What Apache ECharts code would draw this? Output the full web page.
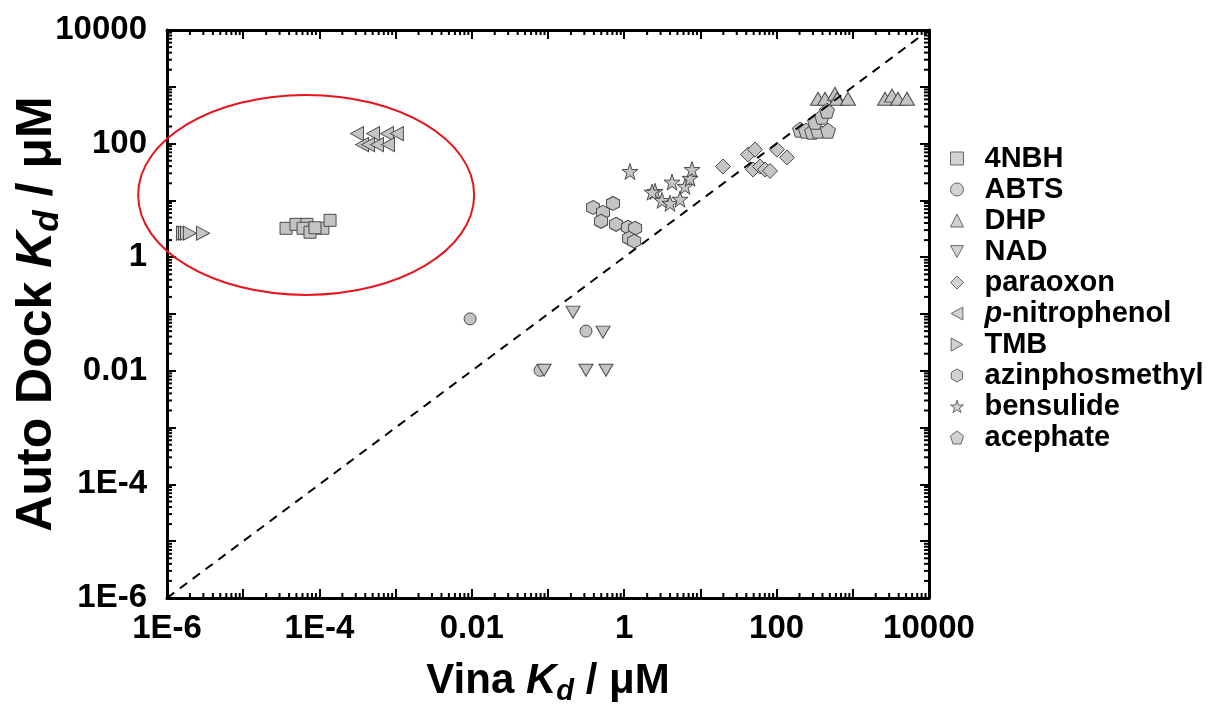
<!DOCTYPE html>
<html>
<head>
<meta charset="utf-8">
<script src="https://cdn.jsdelivr.net/npm/echarts@6/dist/echarts.min.js"></script>
<style>
  html, body { margin: 0; padding: 0; background: #fff; }
  #chart { width: 1208px; height: 710px; }
</style>
</head>
<body>
<div id="chart"></div>
<script>
// tick labels (log axes, every other decade)
let tickValues = [1e-6, 1e-4, 0.01, 1, 100, 10000];
let tickLabels = ['1E-6', '1E-4', '0.01', '1', '100', '10000'];

// series names, in legend order
let names = ['4NBH', 'ABTS', 'DHP', 'NAD', 'paraoxon', 'p-nitrophenol', 'TMB', 'azinphosmethyl', 'bensulide', 'acephate'];

// Vina Kd (x) and AutoDock Kd (y), uM
let nbh_x = [3.65e-5, 4.93e-5, 6.87e-5, 6.1e-5, 7.53e-5, 1.11e-4, 1.38e-4, 8.75e-5];
let nbh_y = [3.23, 3.79, 3.79, 3.23, 2.75, 3.23, 4.46, 3.3];

let abts_x = [0.0095, 0.315, 0.0786];
let abts_y = [0.082, 0.050, 0.0102];

let dhp_x = [349, 432, 583, 621, 865, 2650, 3270, 3920, 5140];
let dhp_y = [615, 615, 754, 615, 615, 615, 700, 615, 615];

let nad_x = [0.213, 0.527, 0.0888, 0.315, 0.577];
let nad_y = [0.108, 0.048, 0.0102, 0.0102, 0.0102];

let paraoxon_x = [19.8, 42.2, 52.1, 49.0, 60.5, 70.5, 81.9, 101, 137];
let paraoxon_y = [39.5, 64, 78.5, 35, 39.5, 35, 33, 78.5, 57];

let pnp_x = [3.11e-4, 5.05e-4, 7.7e-4, 1.04e-3, 3.62e-4, 4.35e-4, 5.7e-4, 7.94e-4];
let pnp_y = [150, 150, 150, 150, 96, 96, 96, 96];

let tmb_x = [1.62e-6, 1.72e-6, 1.83e-6, 2.0e-6, 2.97e-6];
let tmb_y = [2.65, 2.65, 2.65, 2.65, 2.65];

let azin_x = [0.39, 0.527, 0.713, 0.497, 0.78, 1.12, 1.39, 1.16, 1.35];
let azin_y = [7.5, 6.15, 8.85, 4.28, 3.79, 3.36, 3.23, 2.15, 1.91];

let bens_x = [1.19, 2.54, 2.32, 3.13, 4.24, 3.99, 5.40, 6.28, 7.31, 7.76];
let bens_y = [32.3, 14.4, 14.0, 10.0, 21, 8.9, 10.5, 17.7, 24.5, 35];

let acep_x = [203, 243, 292, 349, 473, 319, 394, 458];
let acep_y = [176, 169, 162, 169, 169, 243, 298, 379];

// y = x reference line
let diag_x = [1e-6, 1e4];
let diag_y = [1e-6, 1e4];

let xs = [nbh_x, abts_x, dhp_x, nad_x, paraoxon_x, pnp_x, tmb_x, azin_x, bens_x, acep_x];
let ys = [nbh_y, abts_y, dhp_y, nad_y, paraoxon_y, pnp_y, tmb_y, azin_y, bens_y, acep_y];

let symbols = [
    'rect',
    'circle',
    'triangle',
    'path://M0,0 L10,0 L5,9 Z',
    'diamond',
    'path://M0,5 L9,0 L9,10 Z',
    'path://M0,0 L9,5 L0,10 Z',
    'path://M5,0 L9.33,2.5 L9.33,7.5 L5,10 L0.67,7.5 L0.67,2.5 Z',
    'path://M5,0 L6.2,3.6 L10,3.6 L6.9,5.9 L8.1,9.5 L5,7.3 L1.9,9.5 L3.1,5.9 L0,3.6 L3.8,3.6 Z',
    'path://M5,0 L10,3.8 L8.1,10 L1.9,10 L0,3.8 Z'
];
let sizes = [[12, 12], 12, [15, 13], [14, 12], 15, [13, 14], [13, 14], [13, 14], 16, 15];

// one major tick per decade
let decades = [];
for (let e = -6; e <= 4; e++) decades.push(Math.pow(10, e));

function zip(a, b)
{
    let out = [];
    for (let i = 0; i < a.length; i++) out.push([a[i], b[i]]);
    return out;
}

function tickLabel(value)
{
    for (let i = 0; i < tickValues.length; i++)
    {
        if (Math.abs(Math.log10(value) - Math.log10(tickValues[i])) < 1e-6) return tickLabels[i];
    }
    return '';
}

function titleRich(size)
{
    let base = { fontSize: size, fontWeight: 'bold', fontFamily: 'Liberation Sans', color: '#000', lineHeight: size + 8, verticalAlign: 'middle' };
    return {
        a: base,
        k: Object.assign({}, base, { fontStyle: 'italic' }),
        s: { fontSize: Math.round(size * 0.7), fontWeight: 'bold', fontStyle: 'italic', fontFamily: 'Liberation Sans', color: '#000', lineHeight: Math.round(size * 0.55), verticalAlign: 'bottom' }
    };
}

let chartDom = document.getElementById('chart');
let myChart = echarts.init(chartDom);

let series = [];
names.forEach((name, i) => {
    series.push({
        name: name,
        type: 'scatter',
        symbol: symbols[i],
        symbolSize: sizes[i],
        itemStyle: { color: '#c4c4c4', borderColor: '#4a4a4a', borderWidth: 1, opacity: 1 },
        data: zip(xs[i], ys[i]),
        z: 2
    });
});
series.push({
    name: 'diag',
    type: 'line',
    data: zip(diag_x, diag_y),
    symbol: 'none',
    lineStyle: { color: '#000', width: 2, type: [9, 7] },
    z: 5,
    silent: true
});

let baseAxis = {
    type: 'log',
    logBase: 10,
    min: 1e-6,
    max: 1e4,
    splitLine: { show: false },
    axisLine: { show: true, onZero: false, lineStyle: { color: '#000', width: 3 } },
    axisTick: { show: true, inside: true, length: 9, customValues: decades, lineStyle: { color: '#000', width: 2 } }
};

let labelStyle = {
    show: true, customValues: tickValues, formatter: tickLabel,
    fontSize: 33, fontWeight: 'bold', fontFamily: 'Liberation Sans', color: '#000',
    showMinLabel: true, showMaxLabel: true
};

let option = {
    animation: false,
    backgroundColor: '#fff',
    grid: { left: 167, right: 279, top: 30, bottom: 112, containLabel: false, outerBoundsMode: 'none' },
    legend: {
        orient: 'vertical',
        left: 945,
        top: 139,
        itemWidth: 13,
        itemHeight: 13,
        itemGap: 2,
        data: names,
        itemStyle: { color: '#d2d2d2', borderColor: '#666', borderWidth: 1 },
        formatter: function (name) {
            return name === 'p-nitrophenol' ? '{i|p}-nitrophenol' : name;
        },
        textStyle: {
            fontSize: 29, fontWeight: 'bold', fontFamily: 'Liberation Sans', color: '#000',
            padding: [0, 0, 0, 16],
            rich: { i: { fontSize: 29, fontStyle: 'italic', fontFamily: 'Liberation Sans', color: '#000' } }
        }
    },
    xAxis: [
        Object.assign({}, baseAxis, {
            position: 'bottom',
            name: '{a|Vina }{k|K}{s|d}{a| / μM}',
            nameLocation: 'middle',
            nameMoveOverlap: false,
            nameGap: 58,
            nameTextStyle: { rich: titleRich(42) },
            axisLabel: Object.assign({}, labelStyle, { margin: 14 })
        }),
        Object.assign({}, baseAxis, { position: 'top', axisLabel: { show: false } })
    ],
    yAxis: [
        Object.assign({}, baseAxis, {
            position: 'left',
            name: '{a|Auto Dock }{k|K}{s|d}{a| / μM}',
            nameLocation: 'middle',
            nameRotate: 90,
            nameMoveOverlap: false,
            nameGap: 101,
            nameTextStyle: { rich: titleRich(50) },
            axisLabel: Object.assign({}, labelStyle, { margin: 20 })
        }),
        Object.assign({}, baseAxis, { position: 'right', axisLabel: { show: false } })
    ],
    series: series
};

myChart.setOption(option);

// minor ticks (2..9 in every decade) and the red highlight ellipse
function decorate()
{
    let els = [];
    let tickStyle = { stroke: '#000', lineWidth: 2 };
    let x0 = myChart.convertToPixel({ xAxisIndex: 0 }, 1e-6);
    let x1 = myChart.convertToPixel({ xAxisIndex: 0 }, 1e4);
    let yb = myChart.convertToPixel({ yAxisIndex: 0 }, 1e-6);
    let yt = myChart.convertToPixel({ yAxisIndex: 0 }, 1e4);
    for (let d = -6; d < 4; d++)
    {
        for (let m = 2; m <= 9; m++)
        {
            let v = m * Math.pow(10, d);
            let px = myChart.convertToPixel({ xAxisIndex: 0 }, v);
            let py = myChart.convertToPixel({ yAxisIndex: 0 }, v);
            els.push({ type: 'line', shape: { x1: px, y1: yb, x2: px, y2: yb - 5 }, style: tickStyle, silent: true });
            els.push({ type: 'line', shape: { x1: px, y1: yt, x2: px, y2: yt + 5 }, style: tickStyle, silent: true });
            els.push({ type: 'line', shape: { x1: x0, y1: py, x2: x0 + 5, y2: py }, style: tickStyle, silent: true });
            els.push({ type: 'line', shape: { x1: x1, y1: py, x2: x1 - 5, y2: py }, style: tickStyle, silent: true });
        }
    }
    let c = myChart.convertToPixel({ xAxisIndex: 0, yAxisIndex: 0 }, [6.7e-5, 12.5]);
    els.push({
        type: 'ellipse',
        shape: { cx: c[0], cy: c[1], rx: 168, ry: 100 },
        style: { fill: 'none', stroke: '#e8141c', lineWidth: 2 },
        z: 10,
        silent: true
    });
    myChart.setOption({ graphic: { elements: els } });
}
decorate();
</script>
</body>
</html>
